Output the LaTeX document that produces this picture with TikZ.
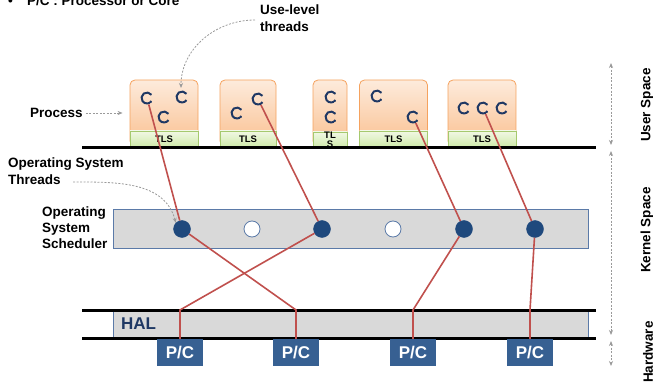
\documentclass[tikz,border=0pt]{standalone}
\usepackage{fontspec}
\setmainfont{Liberation Sans}
\usetikzlibrary{arrows.meta}

\definecolor{proctop}{HTML}{FDEBDC}
\definecolor{procbot}{HTML}{FAC090}
\definecolor{procline}{HTML}{F5A25E}
\definecolor{tlstop}{HTML}{F1F8E4}
\definecolor{tlsbot}{HTML}{CFEAA9}
\definecolor{tlsline}{HTML}{A5C96E}
\definecolor{threadblue}{HTML}{1F3864}
\definecolor{dotblue}{HTML}{1F497D}
\definecolor{pcblue}{HTML}{376092}
\definecolor{steel}{HTML}{5B7AA8}
\definecolor{panel}{HTML}{D9D9D9}
\definecolor{maproute}{HTML}{C0504D}
\definecolor{hint}{HTML}{9A9A9A}

\begin{document}
\begin{tikzpicture}[x=1pt,y=-1pt,
  txt/.style={font=\bfseries\fontsize{13.5}{17}\selectfont, inner sep=0pt, align=left},
  proc/.style={draw=procline, line width=0.8pt, rounded corners=5pt,
    top color=proctop, bottom color=procbot, minimum height=66pt, inner sep=0pt},
  tls/.style={draw=tlsline, line width=0.8pt, top color=tlstop, bottom color=tlsbot,
    minimum height=16pt, inner sep=0pt, font=\bfseries\fontsize{9.5}{8.5}\selectfont},
  thread/.style={circle, inner sep=0pt, minimum size=13pt,
    path picture={\draw[threadblue, line width=2pt]
      ([shift={(35:5.5pt)}]path picture bounding box.center) arc (35:325:5.5pt);}},
  kdot/.style={circle, fill=dotblue, draw=dotblue, minimum size=17pt, inner sep=0pt},
  kidle/.style={circle, fill=white, draw=steel, line width=0.8pt, minimum size=16pt, inner sep=0pt},
  pc/.style={fill=pcblue, text=white, minimum width=46pt, minimum height=27pt, inner sep=0pt,
    font=\bfseries\fontsize{17}{17}\selectfont},
  bar/.style={fill=panel, draw=steel, line width=0.8pt, minimum width=475pt, inner sep=0pt},
  ground/.style={line width=3pt, black},
  maps/.style={maproute, line width=1.6pt},
  hintarrow/.style={hint, line width=0.8pt, dash pattern=on 2pt off 1.5pt, -{Stealth[length=5pt,width=4pt]}},
  span/.style={hint, line width=0.8pt, dash pattern=on 2pt off 1.5pt,
    {Stealth[length=5pt,width=4pt]}-{Stealth[length=5pt,width=4pt]}}
  ]

  \useasboundingbox (0,0) rectangle (653,382);

  % Legend line at the top (cut by the page edge)
  \node[txt, anchor=base west] (bullet) at (8,6) {•};
  \node[txt, anchor=base west] (legend) at (27,6) {P/C : Processor or Core};

  % Processes with their TLS blocks
  \node[proc, minimum width=68pt] (p1) at (164,113) {};
  \node[proc, minimum width=56pt] (p2) at (248,113) {};
  \node[proc, minimum width=34pt] (p3) at (330,113) {};
  \node[proc, minimum width=68pt] (p4) at (393.5,113) {};
  \node[proc, minimum width=68pt] (p5) at (482,113) {};

  \node[tls, minimum width=68pt] (t1) at (164,139) {TLS};
  \node[tls, minimum width=56pt] (t2) at (248,139) {TLS};
  \node[tls, minimum width=34pt, align=center] (t3) at (330,140) {TL\\S};
  \node[tls, minimum width=68pt] (t4) at (393.5,139) {TLS};
  \node[tls, minimum width=68pt] (t5) at (482,139) {TLS};

  % User-level threads
  \node[thread] (u11) at (147,98) {};
  \node[thread] (u12) at (182,97) {};
  \node[thread] (u13) at (164,117) {};
  \node[thread] (u21) at (237,113) {};
  \node[thread] (u22) at (258,99) {};
  \node[thread] (u31) at (331,97) {};
  \node[thread] (u32) at (331,117) {};
  \node[thread] (u41) at (377,96) {};
  \node[thread] (u42) at (413,117) {};
  \node[thread] (u51) at (464,108) {};
  \node[thread] (u52) at (483,108) {};
  \node[thread] (u53) at (502,108) {};

  % Boundaries between the layers
  \draw[ground] (82,148) -- (596,148);

  % Operating system scheduler and its threads
  \node[bar, minimum height=39pt] (sched) at (350.5,229) {};
  \node[kdot] (k1) at (182,229) {};
  \node[kidle] (k2) at (252,229) {};
  \node[kdot] (k3) at (322,229) {};
  \node[kidle] (k4) at (393,229) {};
  \node[kdot] (k5) at (464,229) {};
  \node[kdot] (k6) at (535,229) {};

  % Hardware abstraction layer
  \node[bar, minimum height=28pt] (hal) at (350.5,324) {};
  \node[txt, anchor=west, text=threadblue, font=\bfseries\fontsize{17}{17}\selectfont] (haltext) at (121,324) {HAL};
  \draw[ground] (82,310) -- (596,310);
  \draw[ground] (82,338) -- (596,338);

  % Processors or cores
  \node[pc] (pc1) at (180,352.5) {P/C};
  \node[pc] (pc2) at (296,352.5) {P/C};
  \node[pc] (pc3) at (413,352.5) {P/C};
  \node[pc] (pc4) at (530,352.5) {P/C};

  % Bends on the HAL
  \coordinate (b1) at (296,310);
  \coordinate (b3) at (180,310);
  \coordinate (b5) at (413,310);
  \coordinate (b6) at (530,310);

  % Mapping of threads
  \draw[maps] (u11) -- (k1);
  \draw[maps] (u22) -- (k3);
  \draw[maps] (u42) -- (k5);
  \draw[maps] (u52) -- (k6);
  \draw[maps] (k1) -- (b1) -- (pc2.north);
  \draw[maps] (k3) -- (b3) -- (pc1.north);
  \draw[maps] (k5) -- (b5) -- (pc3.north);
  \draw[maps] (k6) -- (b6) -- (pc4.north);

  % Labels on the left
  \node[txt, anchor=west] (proclabel) at (30,113) {Process};
  \node[txt, anchor=north west] (ulabel) at (260,5) {Use-level\\threads};
  \node[txt, anchor=north west] (oslabel) at (8,158) {Operating System\\Threads};
  \node[txt, anchor=north west, font=\bfseries\fontsize{13.5}{16}\selectfont] (schedlabel) at (42,207) {Operating\\System\\Scheduler};

  % Pointers from the labels
  \coordinate (utip) at (181,88);
  \draw[hintarrow] (proclabel.east) ++(3,0) -- ([xshift=-7pt]p1.west);
  \draw[hintarrow] (255,20) to[out=180, in=90] (utip);
  \draw[hintarrow] (73,182) to[out=0, in=105] (k1.north west);

  % Spans on the right
  \coordinate (us1) at (611,63);
  \coordinate (us2) at (611,145);
  \coordinate (ks1) at (611,151);
  \coordinate (ks2) at (611,335);
  \coordinate (hw1) at (611,341);
  \coordinate (hw2) at (611,366);
  \draw[span] (us1) -- (us2);
  \draw[span] (ks1) -- (ks2);
  \draw[span] (hw1) -- (hw2);

  \node[txt, rotate=90] (userlabel) at (647,105) {User Space};
  \node[txt, rotate=90] (kernellabel) at (647,230) {Kernel Space};
  \node[txt, rotate=90] (hwlabel) at (648,352) {Hardware};

\end{tikzpicture}
\end{document}
